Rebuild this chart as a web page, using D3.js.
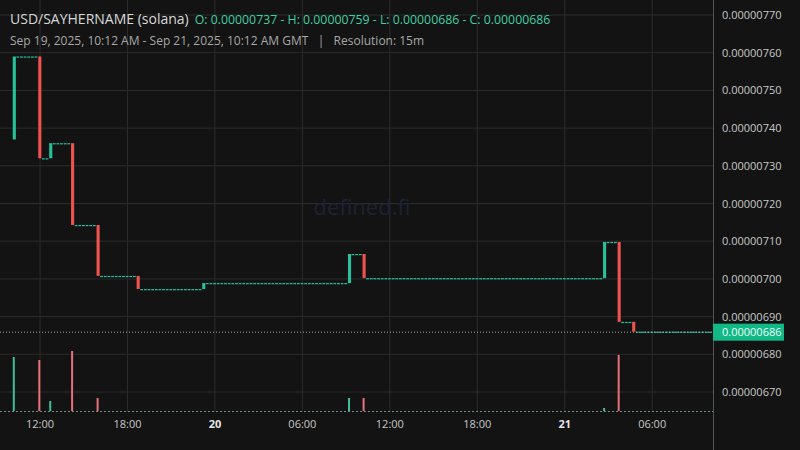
<!DOCTYPE html>
<html><head><meta charset="utf-8">
<script src="https://cdn.jsdelivr.net/npm/d3@7"></script>
<style>body{margin:0;background:#131313}svg{display:block}</style>
</head><body><svg id="c" width="800" height="450"></svg>
<script>
// price in units of 1e-8; candle index = 15-min bars from Sep 19 10:12 GMT
const moveIdx   = [0,   7,   10,  16,  23,  34,  52,  92,  96,  162, 166, 170];
const moveOpen  = [737, 759, 732, 736, 714.3,700.8,697.3,698.9,706.6,700.2,709.8,688.6];
const moveClose = [759, 732, 736, 714.3,700.8,697.3,698.9,706.6,700.2,709.8,688.6,686];
const volIdx    = [0, 7, 10, 16, 23, 92, 96, 162, 166];
const volVal    = [54, 51, 10, 60, 13, 13, 13, 3, 56];
const priceTicks = [670,680,690,700,710,720,730,740,750,760,770];
const timeTicks = [{h:1.8,l:"12:00"},{h:7.8,l:"18:00"},{h:13.8,l:"20",b:1},{h:19.8,l:"06:00"},{h:25.8,l:"12:00"},{h:31.8,l:"18:00"},{h:37.8,l:"21",b:1},{h:43.8,l:"06:00"}];
const nBars = 192;
const lastPrice = 686;

const svg = d3.select("#c");
const up="#26c29a", dn="#ef5350";
const x = d3.scaleLinear().domain([0,48]).range([13.8,713.4]);
const y = d3.scaleLinear().domain([670,770]).range([392,15]);
const yv = d3.scaleLinear().domain([0,60]).range([411,351]);
const bw = 3.1;

svg.append("g").selectAll("line").data(priceTicks).join("line")
 .attr("x1",0).attr("x2",713).attr("y1",d=>y(d)).attr("y2",d=>y(d)).attr("stroke","#2c2c2c");
svg.append("g").selectAll("line").data(timeTicks).join("line")
 .attr("x1",d=>x(d.h)).attr("x2",d=>x(d.h)).attr("y1",0).attr("y2",412).attr("stroke","#2c2c2c");
svg.append("line").attr("x1",713.5).attr("x2",713.5).attr("y1",0).attr("y2",450).attr("stroke","#555");

svg.append("text").attr("x",362).attr("y",215).attr("text-anchor","middle")
 .attr("font-family","Open Sans").attr("font-size",22).attr("fill","#1e2236").text("defined.fi");

svg.append("line").attr("x1",0).attr("x2",713).attr("y1",411.5).attr("y2",411.5)
 .attr("stroke","#6a8f88").attr("stroke-dasharray","2,2");
svg.append("g").selectAll("rect").data(volIdx).join("rect")
 .attr("x",(d)=>x(d/4)-1).attr("width",2)
 .attr("y",(d,i)=>yv(volVal[i])).attr("height",(d,i)=>yv(0)-yv(volVal[i]))
 .attr("fill",(d,i)=>{const k=moveIdx.indexOf(d);return k<0||moveClose[k]>=moveOpen[k]?"#3fbf9a":"#e8707a";});

const bars=[]; let cur=moveOpen[0];
for(let i=0;i<nBars;i++){const k=moveIdx.indexOf(i);
 if(k>=0){bars.push({i,o:moveOpen[k],c:moveClose[k]});cur=moveClose[k];}
 else bars.push({i,o:cur,c:cur});}
svg.append("g").selectAll("rect").data(bars).join("rect")
 .attr("x",d=>x(d.i/4)-bw/2+0.5).attr("width",d=>d.o===d.c?2.8:bw)
 .attr("y",d=>y(Math.max(d.o,d.c))).attr("height",d=>Math.max(1.2,Math.abs(y(d.o)-y(d.c))))
 .attr("fill",d=>d.c>=d.o?up:dn);

svg.append("line").attr("x1",0).attr("x2",713).attr("y1",y(lastPrice)+0.5).attr("y2",y(lastPrice)+0.5)
 .attr("stroke","#aaa").attr("stroke-dasharray","1,2");
svg.append("rect").attr("x",713).attr("y",y(lastPrice)-8).attr("width",71).attr("height",17).attr("fill","#12b886");
svg.append("text").attr("x",722).attr("y",y(lastPrice)+4.5).attr("font-family","Open Sans").attr("font-size",11)
 .attr("fill","#eafff7").text("0.00000"+lastPrice);

svg.append("g").selectAll("text").data(priceTicks).join("text")
 .attr("x",722).attr("y",d=>y(d)+4).attr("font-family","Open Sans").attr("font-size",11).attr("fill","#c8c8c8")
 .text(d=>"0.00000"+d);
svg.append("g").selectAll("text").data(timeTicks).join("text")
 .attr("x",d=>x(d.h)).attr("y",428).attr("text-anchor","middle").attr("font-family","Open Sans").attr("font-size",11)
 .attr("font-weight",d=>d.b?"bold":"normal").attr("fill",d=>d.b?"#e6e6e6":"#c8c8c8").text(d=>d.l);

const h=svg.append("text").attr("x",10).attr("y",24).attr("font-family","Open Sans").attr("font-size",14);
h.append("tspan").attr("fill","#d8d8d8").text("USD/SAYHERNAME (solana)");
h.append("tspan").attr("fill","#3ecfa3").attr("dx",6).attr("font-size",12.3).text("O: 0.00000737 - H: 0.00000759 - L: 0.00000686 - C: 0.00000686");
svg.append("text").attr("x",10).attr("y",45).attr("font-family","Open Sans").attr("font-size",12).attr("fill","#a8a8a8")
 .text("Sep 19, 2025, 10:12 AM - Sep 21, 2025, 10:12 AM GMT   |   Resolution: 15m").style("white-space","pre");
</script></body></html>
